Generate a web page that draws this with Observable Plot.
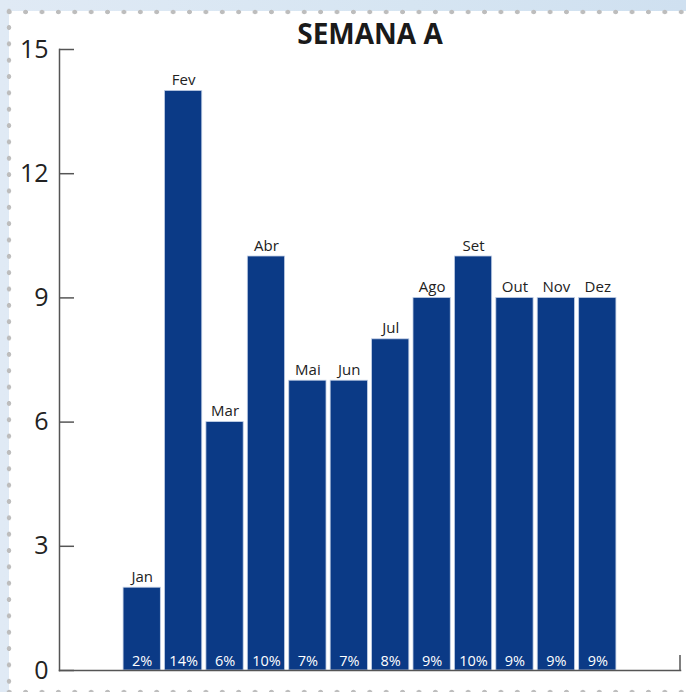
<!DOCTYPE html>
<html>
<head>
<meta charset="utf-8">
<script src="https://cdn.jsdelivr.net/npm/d3@7"></script>
<script src="https://cdn.jsdelivr.net/npm/@observablehq/plot@0.6"></script>
<style>
  html, body { margin: 0; padding: 0; }
  #wrap { position: relative; width: 686px; height: 692px; overflow: hidden;
    background: linear-gradient(90deg, #e0eaf5 0%, #d6e5f2 60%, #cfe0f0 100%); font-family: "Open Sans", sans-serif; }
  #panel { position: absolute; left: 9px; top: 11px; right: 0; bottom: 0; background: #fff; }
  .dots-h { position: absolute; left: 1px; right: 0; height: 6px;
    background-image: radial-gradient(circle, #bdbdbd 2.1px, transparent 2.6px);
    background-size: 16.4px 6px; background-repeat: repeat-x; }
  .dots-v { position: absolute; top: 3px; bottom: 0; width: 6px;
    background-image: radial-gradient(circle, #bdbdbd 2.1px, transparent 2.6px);
    background-size: 6px 16.35px; background-repeat: repeat-y; }
  #chart { position: absolute; left: 0; top: 0; }
</style>
</head>
<body>
<div id="wrap">
  <div id="panel"></div>
  <div class="dots-h" style="top:8.5px;"></div>
  <div class="dots-v" style="left:6.3px;"></div>
  <div class="dots-h" style="top:688.5px;"></div>
  <div id="chart"></div>
</div>
<script>
const title = "SEMANA A";
const months = ["Jan", "Fev", "Mar", "Abr", "Mai", "Jun", "Jul", "Ago", "Set", "Out", "Nov", "Dez"];
const values = [2, 14, 6, 10, 7, 7, 8, 9, 10, 9, 9, 9];
const percents = ["2%", "14%", "6%", "10%", "7%", "7%", "8%", "9%", "10%", "9%", "9%", "9%"];
const yTicks = [0, 3, 6, 9, 12, 15];

const data = months.map((m, i) => ({month: m, value: values[i], pct: percents[i]}));

const axisColor = "#555";
const barColor = "#0b3a86";

const endTick = (index, scales, values, dims) => {
  const x = dims.width - dims.marginRight;
  const y = dims.height - dims.marginBottom;
  const p = d3.create("svg:path")
    .attr("d", `M${x},${y}V${y - 15}`)
    .attr("stroke", axisColor)
    .attr("stroke-width", 1.5)
    .attr("fill", "none");
  return p.node();
};

const chart = Plot.plot({
  width: 686,
  height: 692,
  marginLeft: 59,
  marginRight: 6,
  marginTop: 49,
  marginBottom: 22,
  style: {background: "transparent", fontFamily: "'Open Sans', sans-serif", overflow: "visible"},
  x: {domain: months, range: [121, 618], paddingInner: 0.1, paddingOuter: 0.05, round: false, axis: null},
  y: {domain: [0, 15], axis: null},
  marks: [
    Plot.barY(data, {x: "month", y: "value", fill: barColor, stroke: "#c3d0e6", strokeWidth: 0.8}),
    Plot.text(data, {x: "month", y: "value", text: "month", lineAnchor: "bottom", dy: -6, fontSize: 15, fill: "#222"}),
    Plot.text(data, {x: "month", y: 0, text: "pct", lineAnchor: "bottom", dy: -5, fontSize: 14.5, fill: "#fff"}),
    Plot.frame({anchor: "left", stroke: axisColor, strokeWidth: 1.5}),
    Plot.frame({anchor: "bottom", stroke: axisColor, strokeWidth: 1.5}),
    endTick,
    Plot.axisY({ticks: yTicks, tickSize: -15, text: null, label: null, stroke: axisColor, strokeWidth: 1.5}),
    Plot.axisY({ticks: yTicks, tickSize: 0, tickPadding: 11, fontSize: 25, fill: "#222", label: null}),
    Plot.text([title], {frameAnchor: "top", lineAnchor: "bottom", dy: -6, fontSize: 28, fontWeight: "bold", fill: "#1a1a1a"})
  ]
});
document.getElementById("chart").appendChild(chart);
</script>
</body>
</html>
